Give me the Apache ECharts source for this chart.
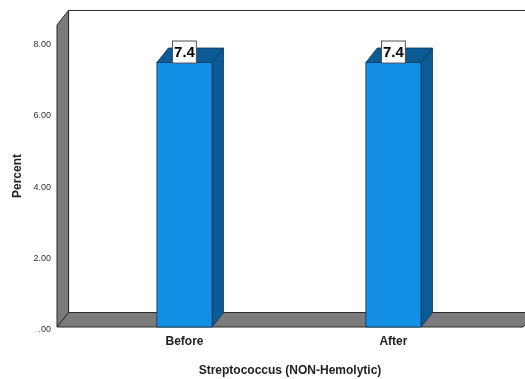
<!DOCTYPE html>
<html>
<head>
<meta charset="utf-8">
<script src="https://cdn.jsdelivr.net/npm/echarts@6/dist/echarts.min.js"></script>
<style>
  html, body { margin: 0; padding: 0; background: #fff; }
  #chart { width: 525px; height: 379px; }
</style>
</head>
<body>
<div id="chart"></div>
<script>
// Percent of non-hemolytic Streptococcus, before and after
const categories = ['Before', 'After'];
const percentValues = [7.4, 7.4];
const yTickValues = [0, 2, 4, 6, 8];

// depth of the pseudo-3D extrusion, in pixels
const DX = 11.5;
const DY = -14.5;
const BAR_WIDTH = 0.264; // in category units

const FRONT = '#1390e6';
const SIDE = '#0c5b95';
const WALL = '#7b7b7b';
const EDGE = '#2b2b2b';

const chart = echarts.init(document.getElementById('chart'), null, { renderer: 'canvas' });

function fmtTick(v) {
  return v === 0 ? '.00' : v.toFixed(2);
}

// floor, left wall and back wall derived from the grid rectangle
function renderFrame(params, api) {
  const cs = params.coordSys;
  const x0 = cs.x, x1 = cs.x + cs.width;
  const yb = cs.y + cs.height, yt = cs.y;
  return {
    type: 'group',
    children: [
      { // back wall
        type: 'rect',
        shape: { x: x0 + DX, y: yt + DY, width: cs.width, height: cs.height },
        style: { fill: '#fff', stroke: EDGE, lineWidth: 1.2 }
      },
      { // left wall
        type: 'polygon',
        shape: { points: [[x0, yb], [x0, yt], [x0 + DX, yt + DY], [x0 + DX, yb + DY]] },
        style: { fill: WALL, stroke: EDGE, lineWidth: 1 }
      },
      { // floor
        type: 'polygon',
        shape: { points: [[x0, yb], [x1, yb], [x1 + DX, yb + DY], [x0 + DX, yb + DY]] },
        style: { fill: WALL, stroke: EDGE, lineWidth: 1 }
      }
    ]
  };
}

function renderBar(params, api) {
  const xv = api.value(0);
  const yv = api.value(1);
  const pTop = api.coord([xv, yv]);
  const pBase = api.coord([xv, 0]);
  const half = api.size([BAR_WIDTH, 0])[0] / 2;
  const l = pTop[0] - half, r = pTop[0] + half;
  const t = pTop[1], b = pBase[1];
  return {
    type: 'group',
    children: [
      { // side face
        type: 'polygon',
        shape: { points: [[r, b], [r, t], [r + DX, t + DY], [r + DX, b + DY]] },
        style: { fill: SIDE, stroke: '#0a3556', lineWidth: 0.8 }
      },
      { // top face
        type: 'polygon',
        shape: { points: [[l, t], [r, t], [r + DX, t + DY], [l + DX, t + DY]] },
        style: { fill: SIDE, stroke: '#0a3556', lineWidth: 0.8 }
      },
      { // front face
        type: 'rect',
        shape: { x: l, y: t, width: r - l, height: b - t },
        style: { fill: FRONT, stroke: '#0a3556', lineWidth: 0.8 }
      },
      { // value label
        type: 'text',
        x: pTop[0],
        y: t,
        style: {
          text: yv.toFixed(1),
          align: 'center',
          verticalAlign: 'bottom',
          font: 'bold 15px "Liberation Sans Narrow", "Liberation Sans", Arial, sans-serif',
          fill: '#000',
          backgroundColor: '#fff',
          borderColor: '#555',
          borderWidth: 1,
          padding: [4, 1, 2, 1]
        }
      }
    ]
  };
}

const barData = categories.map((c, i) => [i + 1, percentValues[i]]);

chart.setOption({
  animation: false,
  backgroundColor: '#fff',
  grid: { left: 57, right: 2, top: 25, bottom: 52, containLabel: false, outerBoundsMode: 'none' },
  xAxis: {
    type: 'value',
    min: 0.39,
    max: 2.62,
    axisLine: { show: false },
    axisTick: { show: false },
    splitLine: { show: false },
    axisLabel: {
      customValues: categories.map((c, i) => i + 1),
      formatter: v => categories[Math.round(v) - 1] || '',
      margin: 9,
      fontFamily: '"Liberation Sans", Arial, sans-serif',
      fontWeight: 'bold',
      fontSize: 12,
      color: '#222'
    },
    name: 'Streptococcus (NON-Hemolytic)',
    nameLocation: 'middle',
    nameGap: 38,
    nameMoveOverlap: false,
    nameTextStyle: {
      fontFamily: '"Liberation Sans", Arial, sans-serif',
      fontWeight: 'bold',
      fontSize: 12,
      color: '#222'
    }
  },
  yAxis: {
    type: 'value',
    min: 0,
    max: 8.45,
    axisLine: { show: false },
    axisTick: { show: false },
    splitLine: { show: false },
    axisLabel: {
      customValues: yTickValues,
      formatter: fmtTick,
      margin: 6,
      verticalAlign: 'top',
      lineHeight: 6,
      fontFamily: '"Liberation Sans", Arial, sans-serif',
      fontSize: 9,
      color: '#333'
    },
    name: 'Percent',
    nameLocation: 'middle',
    nameRotate: 90,
    nameGap: 33,
    nameMoveOverlap: false,
    nameTextStyle: {
      fontFamily: '"Liberation Sans", Arial, sans-serif',
      fontWeight: 'bold',
      fontSize: 12,
      color: '#222'
    }
  },
  series: [
    {
      type: 'custom',
      z: 1,
      silent: true,
      renderItem: renderFrame,
      data: [[0, 0]]
    },
    {
      type: 'custom',
      z: 2,
      renderItem: renderBar,
      encode: { x: 0, y: 1 },
      data: barData
    }
  ]
});
</script>
</body>
</html>
